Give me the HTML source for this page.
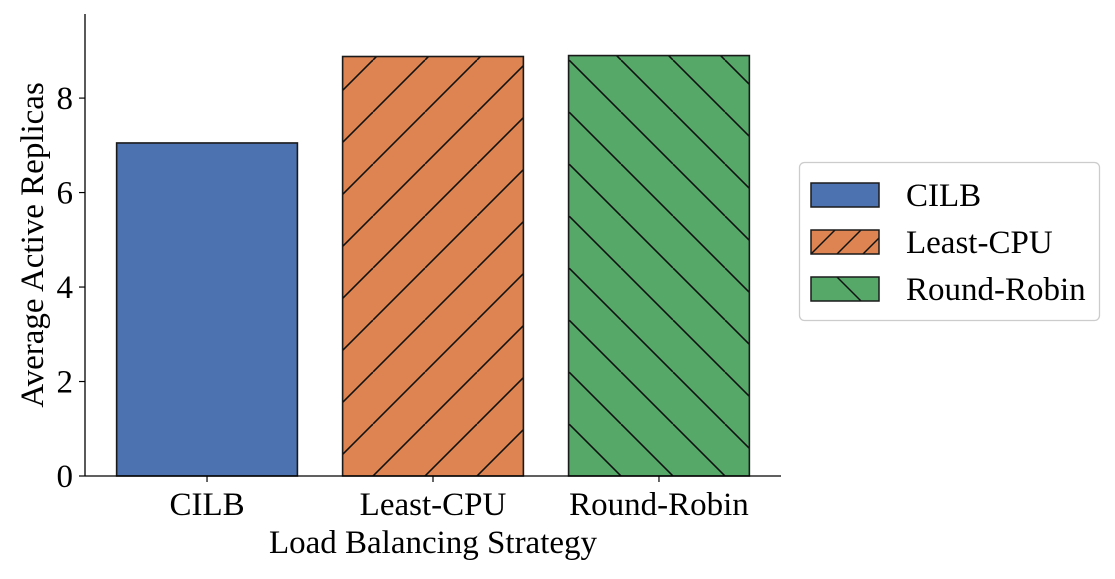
<!DOCTYPE html>
<html><head><meta charset="utf-8"><style>
body{margin:0;background:#fff;}
svg text{font-family:"Liberation Serif",serif;fill:#000;}
</style></head><body>
<svg width="1115" height="574" viewBox="0 0 1115 574">
<defs>
<pattern id="hatchF" patternUnits="userSpaceOnUse" width="52" height="52" x="425" y="476">
<line x1="0" y1="52" x2="52" y2="0" stroke="#111" stroke-width="1.6"/>
<line x1="-52" y1="52" x2="0" y2="0" stroke="#111" stroke-width="1.6"/>
<line x1="52" y1="52" x2="104" y2="0" stroke="#111" stroke-width="1.6"/>
</pattern>
<pattern id="hatchB" patternUnits="userSpaceOnUse" width="52" height="52" x="569" y="476">
<line x1="0" y1="0" x2="52" y2="52" stroke="#111" stroke-width="1.6"/>
<line x1="-52" y1="0" x2="0" y2="52" stroke="#111" stroke-width="1.6"/>
<line x1="52" y1="0" x2="104" y2="52" stroke="#111" stroke-width="1.6"/>
</pattern>
</defs>
<g id="plot"></g>
<g id="legend"></g>
</svg>
<script>
const categories = ["CILB", "Least-CPU", "Round-Robin"];
const values = [7.05, 8.88, 8.9];
const colors = ["#4c72b0", "#dd8452", "#55a868"];
const hatches = ["", "url(#hatchF)", "url(#hatchB)"];
const yTicks = [0, 2, 4, 6, 8];

const NS = "http://www.w3.org/2000/svg";
const L = 85, R = 781, B = 476, T = 14;
const xMin = -0.54, xMax = 2.54, yMin = 0, yMax = 9.78;
const FS = 33;
const xs = v => L + (v - xMin) / (xMax - xMin) * (R - L);
const ys = v => B - (v - yMin) / (yMax - yMin) * (B - T);
const plot = document.getElementById("plot");
function mk(tag, attrs, parent, text) {
  const e = document.createElementNS(NS, tag);
  for (const k in attrs) e.setAttribute(k, attrs[k]);
  if (text !== undefined) e.textContent = text;
  parent.appendChild(e);
  return e;
}
categories.forEach((c, i) => {
  const x0 = xs(i - 0.4), x1 = xs(i + 0.4), y = ys(values[i]);
  const r = mk("rect", {x: x0, y: y, width: x1 - x0, height: B - y, fill: colors[i]}, plot);
  
  
  if (hatches[i]) mk("rect", {x: x0, y: y, width: x1 - x0, height: B - y, fill: hatches[i]}, plot);
  mk("rect", {x: x0, y: y, width: x1 - x0, height: B - y, fill: "none", stroke: "#1a1a1a", "stroke-width": 1.6}, plot);
  mk("line", {x1: xs(i), x2: xs(i), y1: B, y2: B + 6, stroke: "#000", "stroke-width": 1.2}, plot);
  const t = mk("text", {x: xs(i), y: 515, "text-anchor": "middle", "font-size": FS}, plot, c);
  
  
});
yTicks.forEach(v => {
  mk("line", {x1: L - 6, x2: L, y1: ys(v), y2: ys(v), stroke: "#000", "stroke-width": 1.2}, plot);
  const t = mk("text", {x: L - 12, y: ys(v) + 11, "text-anchor": "end", "font-size": FS}, plot, v);
  
  
});
mk("line", {x1: L, x2: L, y1: T, y2: B, stroke: "#000", "stroke-width": 1.3}, plot);
mk("line", {x1: L, x2: R, y1: B, y2: B, stroke: "#000", "stroke-width": 1.3}, plot);
const xl = mk("text", {x: 433, y: 553, "text-anchor": "middle", "font-size": FS}, plot, "Load Balancing Strategy");


const yl = mk("text", {x: 0, y: 0, "text-anchor": "middle", "font-size": FS, transform: "translate(43,245) rotate(-90)"}, plot, "Average Active Replicas");



const lg = document.getElementById("legend");
mk("rect", {x: 799.5, y: 162.5, width: 300, height: 158, rx: 5, fill: "#fff", stroke: "#ccc", "stroke-width": 1.3}, lg);
categories.forEach((c, i) => {
  const y = 183 + i * 47;
  const p = mk("rect", {x: 811, y: y, width: 68, height: 24, fill: colors[i]}, lg);
  
  
  if (i === 1) {
    [[811, 207, 835, 183], [837, 207, 861, 183], [863, 207, 879, 191]].forEach(a => mk("line", {x1: a[0], y1: a[1] - 183 + y, x2: a[2], y2: a[3] - 183 + y, stroke: "#111", "stroke-width": 1.5}, lg));
  }
  if (i === 2) {
    [[837, 183, 861, 207]].forEach(a => mk("line", {x1: a[0], y1: a[1] - 183 + y, x2: a[2], y2: a[3] - 183 + y, stroke: "#111", "stroke-width": 1.5}, lg));
  }
  mk("rect", {x: 811, y: y, width: 68, height: 24, fill: "none", stroke: "#1a1a1a", "stroke-width": 1.5}, lg);
  mk("text", {x: 906, y: y + 23, "font-size": FS}, lg, c);
});
</script>
</body></html>
